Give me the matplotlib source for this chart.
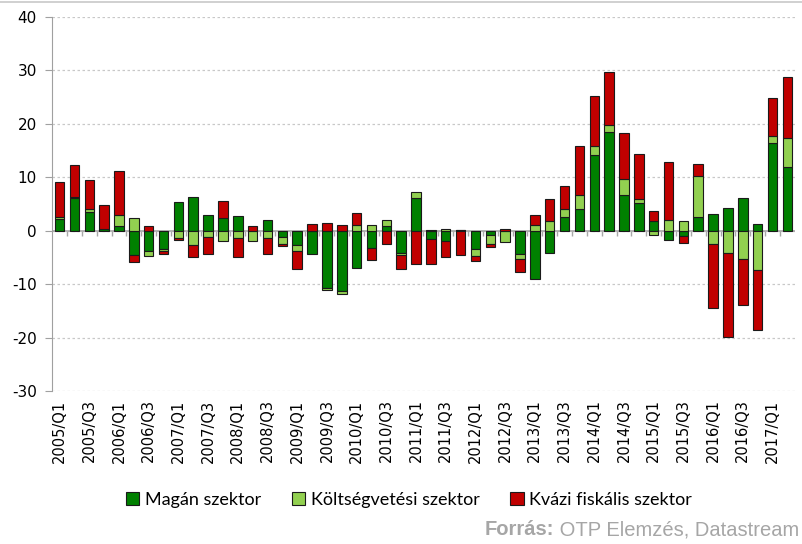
import numpy as np
import matplotlib.pyplot as plt
from matplotlib.lines import Line2D
from matplotlib.patches import Patch

plt.rcParams["axes.unicode_minus"] = False

quarters = [f"{y}/Q{q}" for y in range(2005, 2018) for q in range(1, 5)][:50]

# values (percent points)
magan = [2.2, 6.2, 3.5, 0.3, 0.8, -4.6, -3.7, -3.4, 5.3, 6.3,
         2.9, 2.4, 2.7, 0.0, 2.1, -1.1, -2.7, -4.4, -10.8, -11.3,
         -7.0, -3.3, 0.9, -4.1, 6.2, -1.6, -1.9, 0.2, -3.4, -0.8,
         0.0, -4.4, -9.1, -4.1, 2.6, 4.0, 14.1, 18.4, 6.6, 5.1,
         1.8, -1.7, -0.9, 2.6, 3.2, 4.3, 6.2, 1.2, 16.4, 12.0]
koltsegvetesi = [0.3, 0.1, 0.5, 0.1, 2.2, 2.3, -1.1, -0.4, -1.4, -2.6,
                 -1.1, -1.9, -1.3, -1.9, -1.3, -1.4, -1.1, 0.0, -0.3, -0.6,
                 1.1, 1.0, 1.2, -0.5, 1.1, 0.1, 0.4, 0.0, -1.4, -1.7,
                 -2.2, -0.8, 1.0, 1.9, 1.4, 2.7, 1.7, 1.4, 3.0, 0.8,
                 -0.8, 2.1, 1.8, 7.7, -2.5, -4.1, -5.2, -7.4, 1.4, 5.4]
kvazi = [6.7, 6.0, 5.5, 4.5, 8.2, -1.3, 0.8, -0.6, -0.4, -2.3,
         -3.2, 3.1, -3.6, 0.8, -3.1, -0.3, -3.3, 1.2, 1.5, 1.0,
         2.3, -2.1, -2.4, -2.6, -6.2, -4.6, -3.1, -4.5, -0.9, -0.6,
         0.4, -2.6, 1.9, 4.0, 4.3, 9.1, 9.4, 9.8, 8.7, 8.5,
         1.9, 10.7, -1.4, 2.2, -12.0, -15.8, -8.7, -11.2, 7.1, 11.4]

series = [("Magán szektor", magan, "#008000"),
          ("Költségvetési szektor", koltsegvetesi, "#92D050"),
          ("Kvázi fiskális szektor", kvazi, "#C00000")]

fig = plt.figure(figsize=(8.02, 5.44), dpi=100)
ax = fig.add_axes([0.065, 0.281, 0.926, 0.688])

x = np.arange(len(quarters))
pos_base = np.zeros(len(x))
neg_base = np.zeros(len(x))
for name, vals, col in series:
    v = np.array(vals)
    bottom = np.where(v >= 0, pos_base, neg_base)
    ax.bar(x, v, 0.64, bottom=bottom, color=col, edgecolor="#1a1a1a",
           linewidth=0.8, zorder=3, label=name)
    pos_base += np.where(v >= 0, v, 0)
    neg_base += np.where(v < 0, v, 0)

ax.set_xlim(-0.5, len(x) - 0.5)
ax.set_ylim(-30, 40)
ax.set_yticks(range(-30, 41, 10))
ax.yaxis.grid(True, linestyle=(0, (2, 2)), color="#c8c8c8", linewidth=0.9, zorder=0)
ax.tick_params(axis="y", length=5, color="#a0a0a0", labelsize=11, pad=6)

ax.set_xticks(x[::2])
ax.set_xticklabels(quarters[::2], rotation=90, fontsize=10.5)
ax.tick_params(axis="x", length=0, pad=6)

for s in ["top", "right", "bottom"]:
    ax.spines[s].set_visible(False)
ax.spines["left"].set_color("#a0a0a0")

# zero line with category ticks
ax.axhline(0, color="#a8a8a8", linewidth=1.2, zorder=2)
ax.vlines(np.arange(0.5, len(x) - 0.5), -1.0, 0, color="#a8a8a8", linewidth=1.0, zorder=2)

handles = [Patch(facecolor=c, edgecolor="#1a1a1a", linewidth=0.8) for _, _, c in series]
fig.legend(handles, [n for n, _, _ in series], loc="center", bbox_to_anchor=(0.51, 0.081),
           ncol=3, frameon=False, prop={"family": "Lato", "size": 13},
           handlelength=0.75, handleheight=0.75, handletextpad=0.3, columnspacing=1.7)

# source line: bold "Forrás:" followed by regular text, right aligned
src = fig.text(0.997, 0.026, " OTP Elemzés, Datastream", ha="right", va="center",
               fontsize=14.5, color="#a6a6a6", family="Liberation Sans")
renderer = fig.canvas.get_renderer()
bb = src.get_window_extent(renderer=renderer)
fig.text(bb.x0 / fig.bbox.width, 0.026, "Forrás:", ha="right", va="center",
         fontsize=14.5, color="#a6a6a6", family="Liberation Sans", weight="bold")

fig.add_artist(Line2D([0, 1], [0.997, 0.997], color="#c8c8c8", linewidth=1.2))

fig.savefig("out.png", dpi=100)
